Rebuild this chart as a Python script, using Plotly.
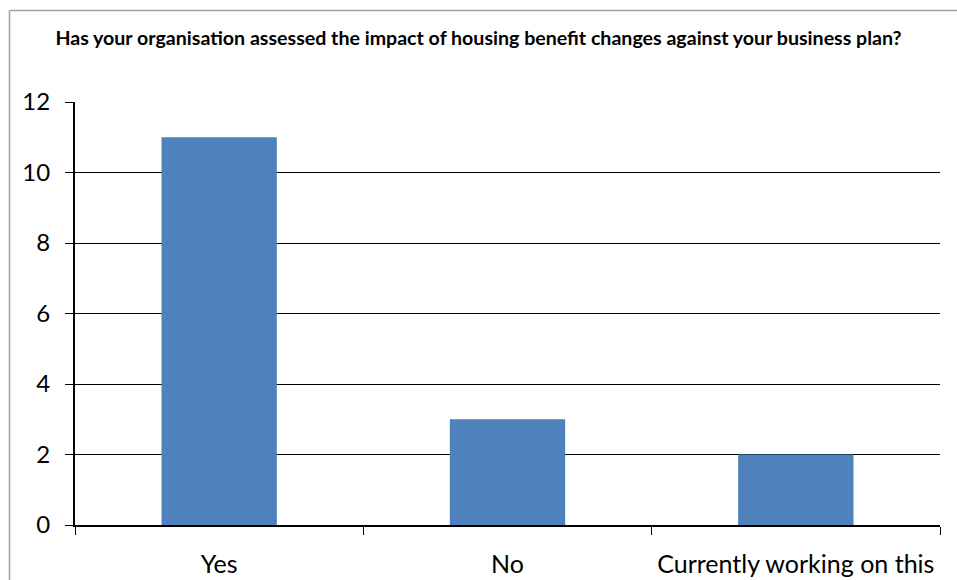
import plotly.graph_objects as go

# Survey responses
categories = ["Yes", "No", "Currently working on this"]
counts = [11, 3, 2]
y_ticks = [0, 2, 4, 6, 8, 10, 12]

title_text = "Has your organisation assessed the impact of housing benefit changes against your business plan?"

FONT = "Lato, Carlito, Liberation Sans, sans-serif"

fig = go.Figure(
    go.Bar(
        x=categories,
        y=counts,
        marker=dict(color="#4F81BD", line=dict(width=0)),
    )
)

W, H = 957, 580
L, R, T, B = 75, 17, 102, 55
fig.update_layout(
    width=W,
    height=H,
    margin=dict(l=L, r=R, t=T, b=B, autoexpand=False),
    paper_bgcolor="white",
    plot_bgcolor="white",
    bargap=0.6,
    showlegend=False,
    font=dict(family=FONT, color="black"),
    title=dict(
        text=title_text,
        font=dict(size=19.6, family=FONT, weight="bold"),
        x=0.5,
        xanchor="center",
        y=1 - 38 / H,
        yanchor="middle",
    ),
)

fig.update_yaxes(
    range=[0, 12],
    tickvals=y_ticks,
    showgrid=True,
    gridcolor="black",
    gridwidth=1.3,
    showline=True,
    linecolor="black",
    linewidth=2,
    ticks="outside",
    ticklen=8,
    tickcolor="black",
    tickwidth=1.3,
    tickfont=dict(size=24),
    ticklabelstandoff=10,
    zeroline=False,
    automargin=False,
)

fig.update_xaxes(
    showline=True,
    linecolor="black",
    linewidth=2,
    ticks="outside",
    tickson="boundaries",
    ticklen=8,
    tickcolor="black",
    tickwidth=1.3,
    tickfont=dict(size=25),
    ticklabelstandoff=16,
    showgrid=False,
    automargin=False,
)

# Outer chart frame: only the top and left edges fall inside the page
pw, ph = W - L - R, H - T - B
fx0 = (9.5 - L) / pw
fy1 = 1 + (T - 10.5) / ph
frame = dict(color="#A0A0A0", width=1.5)
fig.add_shape(type="line", xref="paper", yref="paper",
              x0=fx0, x1=(W - L) / pw, y0=fy1, y1=fy1, line=frame)
fig.add_shape(type="line", xref="paper", yref="paper",
              x0=fx0, x1=fx0, y0=fy1, y1=-B / ph, line=frame)

fig.write_html("out.html")
